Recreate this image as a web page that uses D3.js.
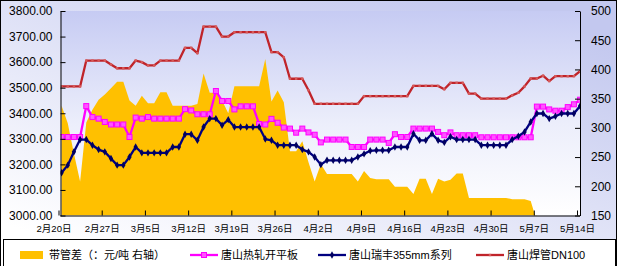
<!DOCTYPE html>
<html>
<head>
<meta charset="utf-8">
<script src="https://cdn.jsdelivr.net/npm/d3@7"></script>
<style>
  body { margin: 0; background: #fff; }
  svg { display: block; }
  text { font-family: "Liberation Sans", "Noto Sans CJK SC", sans-serif; fill: #000; }
</style>
</head>
<body>
<div id="chart"><svg></svg></div>
<script>
// daily series, starting 2012-02-20
var startDay = new Date(2012, 1, 20)

var tickLabels = ["2月20日", "2月27日", "3月5日", "3月12日", "3月19日", "3月26日", "4月2日",
                  "4月9日", "4月16日", "4月23日", "4月30日", "5月7日", "5月14日"]

var leftTicks = [3000, 3100, 3200, 3300, 3400, 3500, 3600, 3700, 3800]
var rightTicks = [150, 200, 250, 300, 350, 400, 450, 500]

var seriesNames = ["带管差（：元/吨 右轴）", "唐山热轧开平板", "唐山瑞丰355mm系列", "唐山焊管DN100"]

// 唐山焊管DN100
var hanguan = [3505,3505,3505,3505,3606,3606,3606,3606,3591,3576,
               3576,3576,3606,3600,3587,3587,3606,3606,3606,3606,
               3656,3656,3635,3739,3739,3739,3700,3700,3717,3717,
               3717,3717,3717,3717,3639,3639,3619,3535,3535,3535,
               3490,3437,3437,3437,3437,3437,3437,3437,3437,3467,
               3467,3467,3467,3467,3467,3467,3467,3507,3507,3507,
               3507,3507,3494,3519,3519,3519,3477,3477,3457,3457,
               3457,3457,3457,3470,3480,3505,3536,3536,3547,3526,
               3545,3545,3545,3545,3565]

// 唐山热轧开平板
var rezha = [3307,3307,3307,3307,3428,3385,3379,3366,3356,3356,
             3356,3307,3383,3379,3385,3379,3379,3379,3379,3379,
             3416,3411,3396,3396,3396,3487,3448,3448,3415,3427,
             3427,3427,3358,3356,3378,3363,3344,3340,3324,3340,
             3325,3316,3286,3297,3297,3297,3297,3268,3268,3268,
             3297,3297,3297,3284,3318,3307,3307,3340,3340,3340,
             3340,3327,3314,3325,3314,3314,3314,3314,3306,3306,
             3306,3306,3306,3306,3306,3306,3306,3426,3426,3415,
             3410,3410,3424,3435,3453]

// 唐山瑞丰355mm系列
var ruifeng = [3167,3197,3249,3297,3297,3275,3258,3249,3223,3197,
               3197,3229,3268,3245,3245,3245,3245,3245,3268,3268,
               3318,3318,3294,3346,3379,3379,3353,3375,3346,3346,
               3346,3346,3346,3299,3294,3275,3275,3275,3275,3258,
               3249,3229,3199,3216,3216,3216,3216,3216,3229,3241,
               3253,3255,3255,3255,3268,3268,3268,3320,3294,3294,
               3320,3294,3286,3308,3297,3297,3297,3297,3275,3275,
               3275,3275,3275,3297,3310,3327,3366,3399,3399,3379,
               3388,3399,3399,3399,3428]

// 带管差 (right axis)
var spread = [338,308,256,208,309,331,348,357,368,379,
              379,347,338,355,342,342,361,361,338,338,
              338,338,341,393,360,360,347,325,371,371,
              371,371,371,418,345,364,344,260,260,277,
              241,208,238,221,221,221,221,221,208,226,
              214,212,212,212,199,199,199,187,213,213,
              187,213,208,211,222,222,180,180,180,180,
              180,180,180,178,178,178,175,140]

function pipeChart(){
    var width = 619,
        height = 266
    var margin = {top: 11, right: 39, bottom: 50.5, left: 60.5}

    function chart(selection) {
        var svg = selection.select('svg')
            .attr('width', width).attr('height', height)

        var left = margin.left,
            right = width - margin.right,
            top = margin.top,
            bottom = height - margin.bottom

        var defs = svg.append('defs')
        var bg = defs.append('linearGradient').attr('id', 'bgGrad')
            .attr('x1', 0).attr('y1', 1).attr('x2', 0.8).attr('y2', 0)
        bg.append('stop').attr('offset', '0.1').attr('stop-color', '#ffffff')
        bg.append('stop').attr('offset', '1').attr('stop-color', '#c3c8ef')

        var pg = defs.append('linearGradient').attr('id', 'plotGrad')
            .attr('x1', 0).attr('y1', 0).attr('x2', 0).attr('y2', 1)
        pg.append('stop').attr('offset', '0').attr('stop-color', '#c6cbf3')
        pg.append('stop').attr('offset', '0.55').attr('stop-color', '#eceefb')
        pg.append('stop').attr('offset', '1').attr('stop-color', '#ffffff')

        defs.append('clipPath').attr('id', 'plotClip')
            .append('rect')
            .attr('x', left).attr('y', top)
            .attr('width', right - left).attr('height', bottom - top)

        svg.append('rect')
            .attr('x', 0.5).attr('y', 0.5)
            .attr('width', width - 3).attr('height', height)
            .style('fill', 'url(#bgGrad)')
            .style('stroke', '#000')

        svg.append('rect')
            .attr('x', left).attr('y', top)
            .attr('width', right - left).attr('height', bottom - top)
            .style('fill', 'url(#plotGrad)')

        var dayOf = function(i){ return d3.timeDay.offset(startDay, i) }
        var mid = function(i){ return d3.timeHour.offset(dayOf(i), 12) }

        var xScale = d3.scaleTime()
            .domain([startDay, dayOf(84)])
            .range([left - 2, right - 3])

        var yLeft = d3.scaleLinear()
            .domain([3000, 3800])
            .range([bottom, top])

        var yRight = d3.scaleLinear()
            .domain([150, 500])
            .range([bottom, top])

        var plot = svg.append('g').attr('clip-path', 'url(#plotClip)')

        var area = d3.area()
            .x(function(d, i){ return xScale(mid(i)) })
            .y0(yRight(150))
            .y1(function(d){ return yRight(d) })

        plot.append('path')
            .datum(spread)
            .attr('d', area)
            .style('fill', '#ffc000')

        var lineL = d3.line()
            .x(function(d, i){ return xScale(mid(i)) })
            .y(function(d){ return yLeft(d) })

        var series = [
            {data: rezha, color: '#ff00ff', marker: 'square'},
            {data: ruifeng, color: '#000080', marker: 'diamond'},
            {data: hanguan, color: '#c0242a', marker: 'small'}
        ]

        series.forEach(function(s){
            plot.append('path')
                .datum(s.data)
                .attr('d', lineL)
                .style('fill', 'none')
                .style('stroke', s.color)
                .style('stroke-width', 2.3)
                .style('stroke-linejoin', 'round')
            drawMarkers(plot, s.data.map(function(d, i){
                return [xScale(mid(i)), yLeft(d)]
            }), s)
        })

        // axes
        var tickDates = tickLabels.map(function(t, i){ return dayOf(i * 7) })

        var xAxis = d3.axisBottom(xScale)
            .tickValues(tickDates)
            .tickFormat(function(d, i){ return tickLabels[i] })
            .tickSizeInner(-5).tickSizeOuter(0)
            .tickPadding(10)
        var gx = svg.append('g')
            .attr('transform', 'translate(0,' + bottom + ')')
            .call(xAxis)
        gx.select('.domain').attr('d', 'M' + left + ',0.5H' + right)
        gx.select('.tick text').attr('dx', -5)

        var yAxisL = d3.axisLeft(yLeft)
            .tickValues(leftTicks)
            .tickFormat(d3.format('.2f'))
            .tickSizeInner(-5).tickSizeOuter(0)
            .tickPadding(8)
        svg.append('g')
            .attr('transform', 'translate(' + left + ',0)')
            .call(yAxisL)

        var yAxisR = d3.axisRight(yRight)
            .tickValues(rightTicks)
            .tickSizeInner(-5).tickSizeOuter(0)
            .tickPadding(11)
        svg.append('g')
            .attr('transform', 'translate(' + right + ',0)')
            .call(yAxisR)

        svg.selectAll('.domain, .tick line').style('stroke', '#000')
        svg.selectAll('.tick text')
            .style('font-family', '"Liberation Sans", "Noto Sans CJK SC", sans-serif')
            .style('font-size', '12px')
        gx.selectAll('.tick text').style('font-size', '9.5px')

        // legend
        var legend = svg.append('g')
        legend.append('rect')
            .attr('x', 3.5).attr('y', 239.5)
            .attr('width', 612).attr('height', 40)
            .style('fill', '#fff').style('stroke', '#000')

        var ly = 255
        legend.append('rect')
            .attr('x', 20).attr('y', ly - 4)
            .attr('width', 23).attr('height', 8)
            .style('fill', '#ffc000')

        var legendItems = [
            {x: 49, text: seriesNames[0]},
            {x: 190, text: seriesNames[1], s: series[0]},
            {x: 318, text: seriesNames[2], s: series[1]},
            {x: 476, text: seriesNames[3], s: series[2]}
        ]
        legendItems.forEach(function(it){
            var tx = it.x
            if (it.s) {
                legend.append('line')
                    .attr('x1', it.x).attr('x2', it.x + 28)
                    .attr('y1', ly).attr('y2', ly)
                    .style('stroke', it.s.color).style('stroke-width', 2.3)
                drawMarkers(legend, [[it.x + 14, ly]], it.s)
                tx = it.x + 31
            }
            legend.append('text')
                .attr('x', tx).attr('y', ly)
                .attr('dy', '0.36em')
                .style('font-size', '11px')
                .text(it.text)
        })
    }

    function drawMarkers(g, pts, s) {
        if (s.marker === 'square') {
            g.selectAll(null).data(pts).enter().append('rect')
                .attr('x', function(p){ return p[0] - 2.5 })
                .attr('y', function(p){ return p[1] - 2.5 })
                .attr('width', 5).attr('height', 5)
                .style('fill', '#ff55ff').style('stroke', '#ff00ff').style('stroke-width', 1)
        } else if (s.marker === 'diamond') {
            g.selectAll(null).data(pts).enter().append('path')
                .attr('d', d3.symbol(d3.symbolDiamond, 16))
                .attr('transform', function(p){ return 'translate(' + p[0] + ',' + p[1] + ')' })
                .style('fill', '#000060')
        } else {
            g.selectAll(null).data(pts).enter().append('rect')
                .attr('x', function(p){ return p[0] - 1.2 })
                .attr('y', function(p){ return p[1] - 1.2 })
                .attr('width', 2.4).attr('height', 2.4)
                .style('fill', '#d65a5a')
        }
    }

    chart.width = function(value) {
        if(!arguments.length){ return width }
        width = value
        return chart
    }
    chart.height = function(value) {
        if(!arguments.length){ return height }
        height = value
        return chart
    }
    return chart
}

d3.select('#chart').call(pipeChart())
</script>
</body>
</html>
